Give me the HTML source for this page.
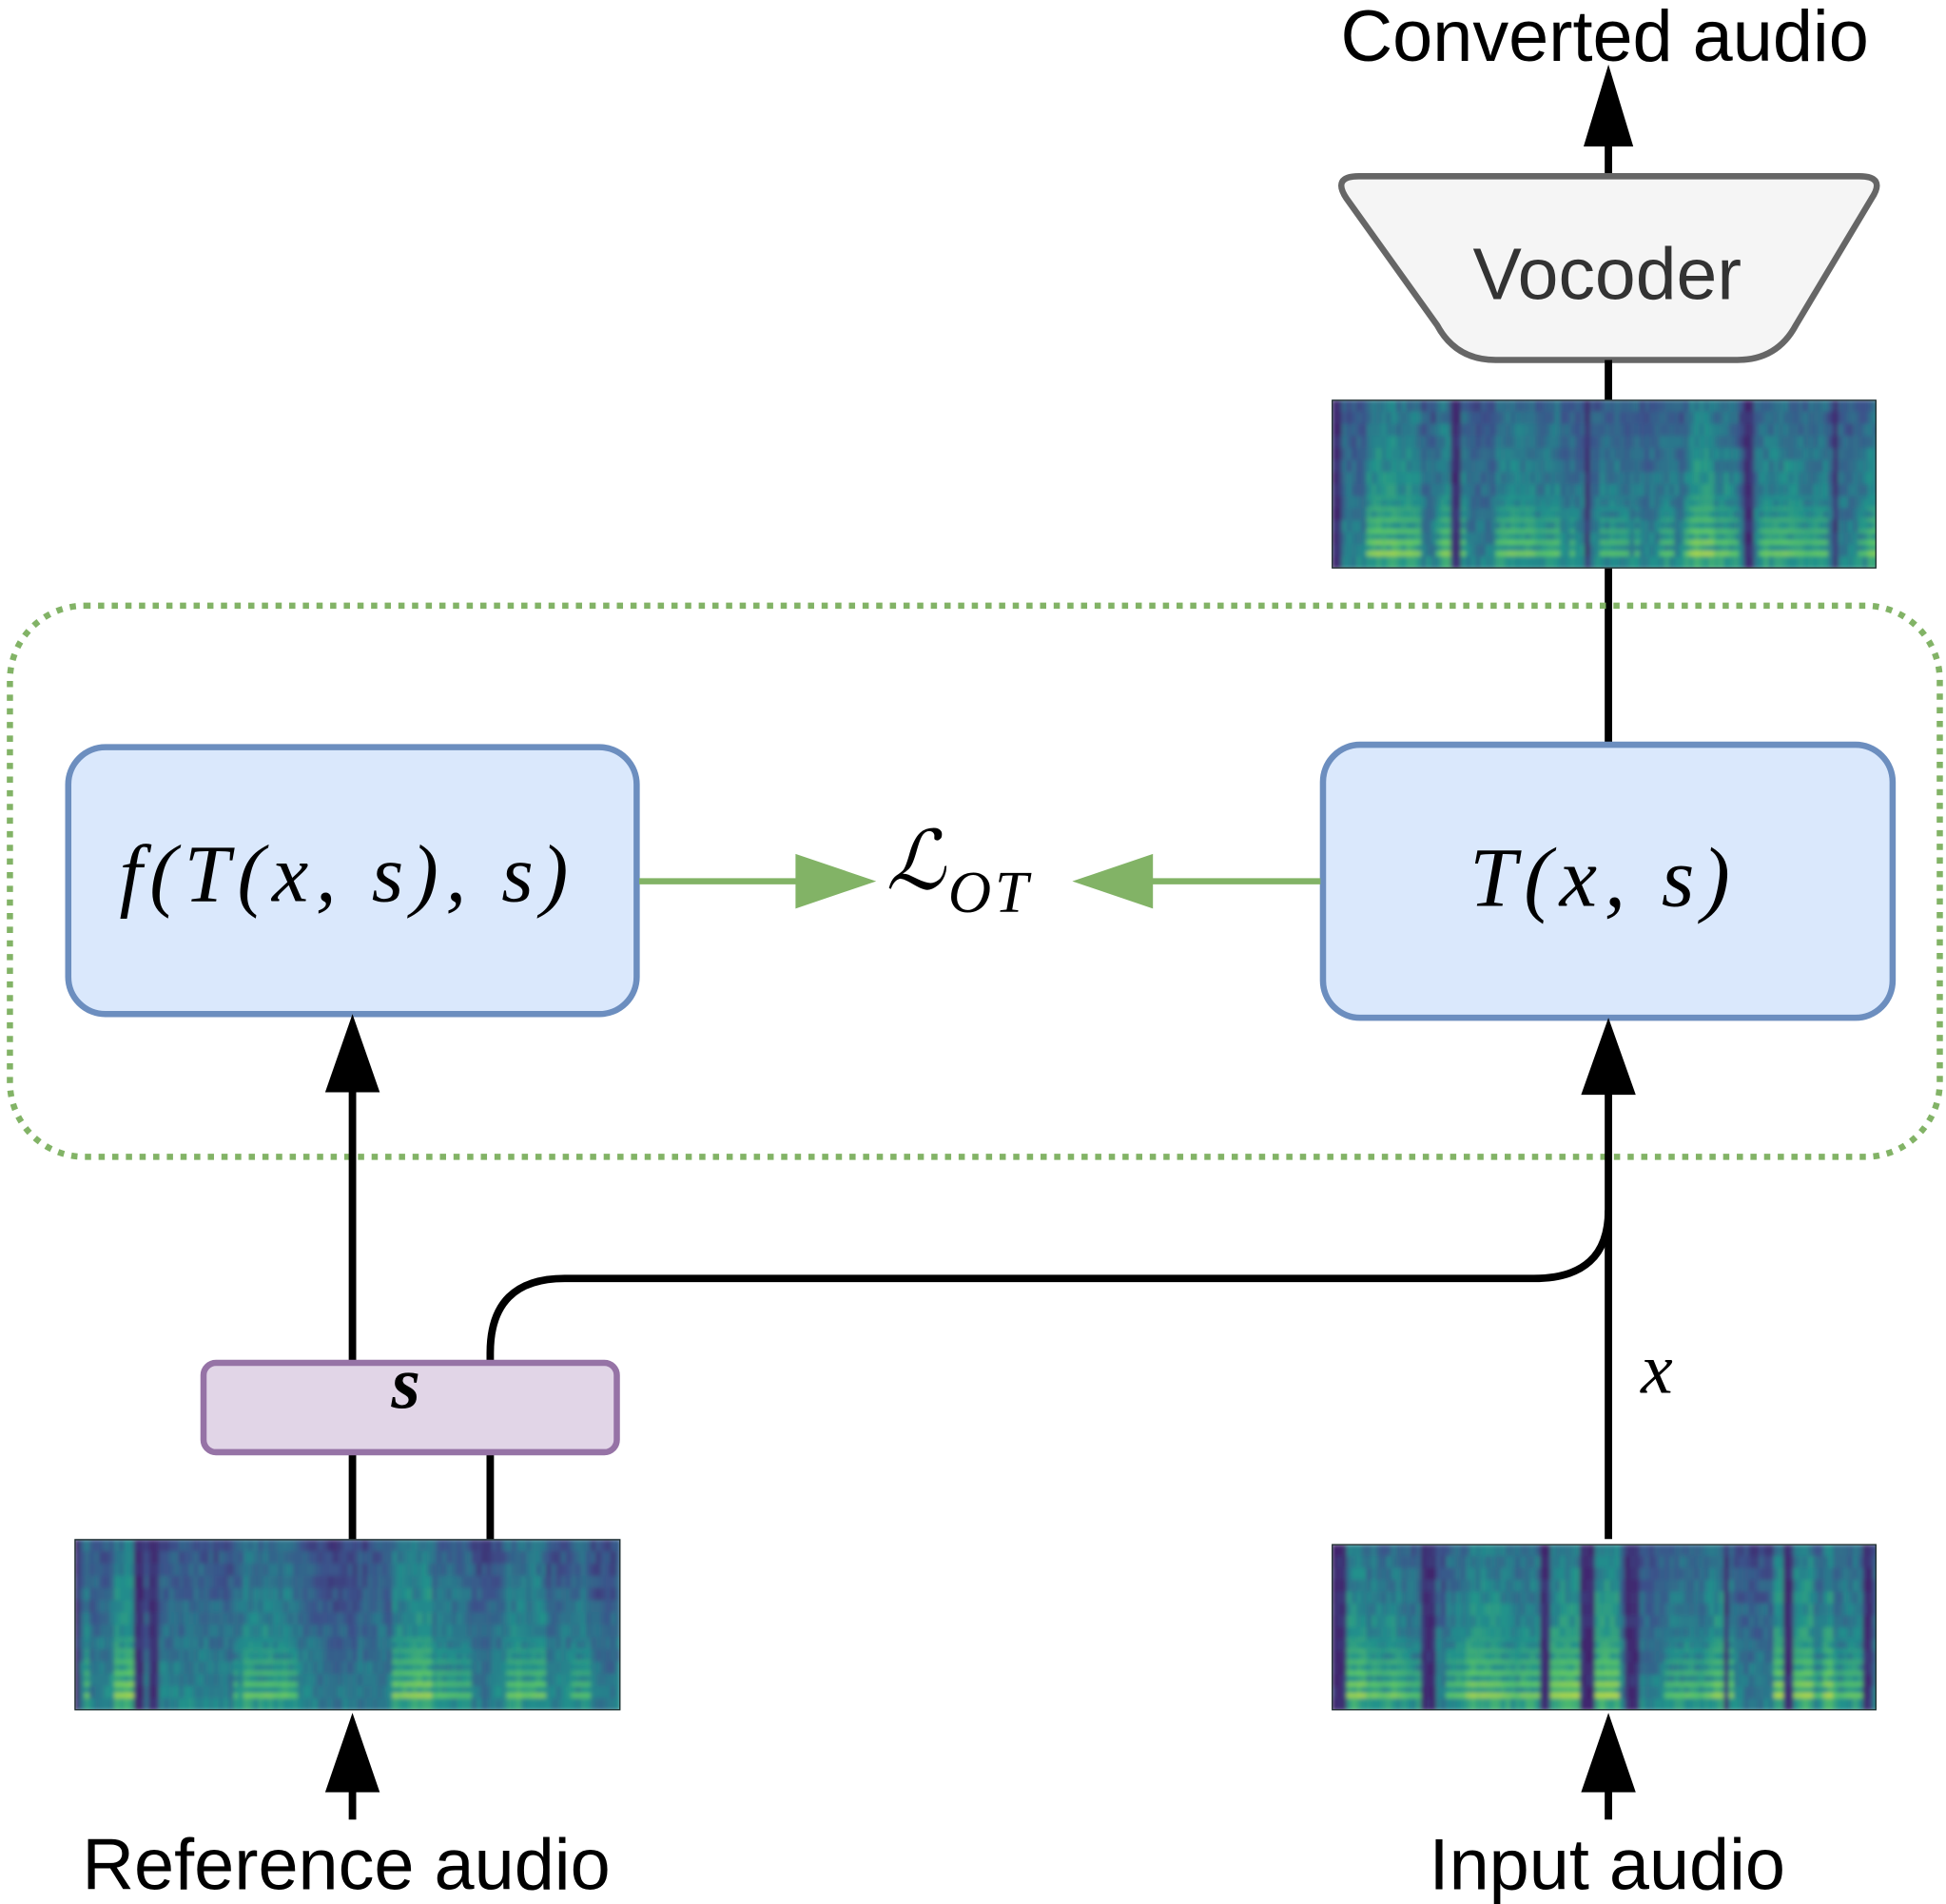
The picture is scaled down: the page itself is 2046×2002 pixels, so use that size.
<!DOCTYPE html>
<html><head><meta charset="utf-8"><style>
html,body{margin:0;padding:0;background:#fff}
svg{display:block}
.sans{font-family:"Liberation Sans",sans-serif}
.math{font-family:"Liberation Serif",serif;font-style:italic}
</style></head><body>
<svg id="s" width="2046" height="2002" viewBox="0 0 1568 1534" preserveAspectRatio="none" xmlns="http://www.w3.org/2000/svg">
<defs>
<filter id="bl" x="0" y="0" width="1" height="1"><feGaussianBlur stdDeviation="1.8"/></filter>
<clipPath id="c1"><rect x="1073" y="322" width="439" height="136"/></clipPath>
<clipPath id="c2"><rect x="60" y="1240" width="440" height="138"/></clipPath>
<clipPath id="c3"><rect x="1073" y="1244" width="439" height="134"/></clipPath>
</defs>

<text x="1293" y="49" class="sans" font-size="58" text-anchor="middle">Converted audio</text>
<line x1="1296" y1="142" x2="1296" y2="110" stroke="#000" stroke-width="6"/>
<polygon points="1296,52 1276,118 1316,118" fill="#000"/>

<path d="M1095,142 L1498,142 Q1520,142 1508,160 L1447,262 Q1432,290 1400,290 L1205,290 Q1173,290 1158,262 L1085,160 Q1073,142 1095,142 Z" fill="#f5f5f5" stroke="#666" stroke-width="5"/>
<text x="1295" y="241" class="sans" font-size="59" fill="#333" text-anchor="middle">Vocoder</text>
<line x1="1296" y1="290" x2="1296" y2="322" stroke="#000" stroke-width="6"/>

<g id="sp1" clip-path="url(#c1)"></g>
<g id="sp2" clip-path="url(#c2)"></g>
<g id="sp3" clip-path="url(#c3)"></g>

<line x1="1296" y1="458" x2="1296" y2="600" stroke="#000" stroke-width="6"/>

<rect x="8" y="488" width="1555" height="444" rx="60" fill="none" stroke="#82b366" stroke-width="5" stroke-dasharray="5,6"/>

<rect x="55" y="602" width="458" height="215" rx="30" fill="#dae8fc" stroke="#6c8ebf" stroke-width="5"/>
<text x="280" y="726" class="math" font-size="66" letter-spacing="6" text-anchor="middle">f(T(x, s), s)</text>
<rect x="1066" y="600" width="459" height="220" rx="30" fill="#dae8fc" stroke="#6c8ebf" stroke-width="5"/>
<text x="1292" y="730" class="math" font-size="68" letter-spacing="6" text-anchor="middle">T(x, s)</text>

<line x1="515" y1="710" x2="645" y2="710" stroke="#82b366" stroke-width="5"/>
<polygon points="706,710 641,688 641,732" fill="#82b366"/>
<line x1="1064" y1="710" x2="925" y2="710" stroke="#82b366" stroke-width="5"/>
<polygon points="864,710 929,688 929,732" fill="#82b366"/>
<text x="714" y="716" class="math" font-size="66">ℒ</text>
<text x="764" y="735" class="math" font-size="48" letter-spacing="3">OT</text>

<line x1="284" y1="1240" x2="284" y2="870" stroke="#000" stroke-width="6"/>
<polygon points="284,817 262,880 306,880" fill="#000"/>
<line x1="1296" y1="1240" x2="1296" y2="872" stroke="#000" stroke-width="6"/>
<polygon points="1296,820 1274,882 1318,882" fill="#000"/>

<path d="M395,1240 L395,1090 Q395,1030 455,1030 L1236,1030 Q1296,1030 1296,975" fill="none" stroke="#000" stroke-width="6"/>
<rect x="164" y="1098" width="333" height="72" rx="10" fill="#e1d5e7" stroke="#9673a6" stroke-width="5"/>
<text x="327" y="1134" class="math" font-size="60" font-weight="bold" text-anchor="middle">s</text>
<text x="1335" y="1122" class="math" font-size="58" text-anchor="middle">x</text>

<line x1="284" y1="1466" x2="284" y2="1430" stroke="#000" stroke-width="6"/>
<polygon points="284,1380 262,1444 306,1444" fill="#000"/>
<line x1="1296" y1="1466" x2="1296" y2="1430" stroke="#000" stroke-width="6"/>
<polygon points="1296,1380 1274,1444 1318,1444" fill="#000"/>

<text x="279" y="1522" class="sans" font-size="58" text-anchor="middle">Reference audio</text>
<text x="1295" y="1522" class="sans" font-size="58" text-anchor="middle">Input audio</text>
</svg>
<script>
(function(){
var NS="http://www.w3.org/2000/svg";
var seed=7;function r(){seed=(seed*16807)%2147483647;return seed/2147483647;}
function lerp(a,b,t){return a+(b-a)*t;}
var stops=[[68,1,84],[59,82,139],[33,145,140],[94,201,98],[253,231,37]];
function col(v){v=Math.max(0,Math.min(0.999,v));var p=v*4,i=Math.floor(p),t=p-i;var a=stops[i],b=stops[i+1];
return "rgb("+Math.round(lerp(a[0],b[0],t))+","+Math.round(lerp(a[1],b[1],t))+","+Math.round(lerp(a[2],b[2],t))+")";}
function spec(id,x,y,w,h,s){
 seed=s;var g=document.getElementById(id);var inner=document.createElementNS(NS,"g");inner.setAttribute("filter","url(#bl)");
 var bg=document.createElementNS(NS,"rect");bg.setAttribute("x",x);bg.setAttribute("y",y);bg.setAttribute("width",w);bg.setAttribute("height",h);bg.setAttribute("fill",col(0.3));inner.appendChild(bg);
 var cw=4,loud=0.5,dark=0;
 for(var cx=0;cx<w;cx+=cw){
  if(dark>0){dark--;}
  else if(r()<0.06){dark=1+Math.floor(r()*3);}
  if(r()<0.25)loud=0.25+r()*0.7;else loud=Math.max(0.2,Math.min(1,loud+(r()-0.5)*0.15));
  var rows=14;
  for(var j=0;j<rows;j++){
   var fy=j/rows;
   var v=0.14+loud*0.3+(fy*0.2)+(r()-0.5)*0.16;
   if(dark>0)v=0.1+r()*0.08;
   var rc=document.createElementNS(NS,"rect");
   rc.setAttribute("x",x+cx);rc.setAttribute("y",y+fy*h);rc.setAttribute("width",cw+0.5);rc.setAttribute("height",h/rows+0.5);
   rc.setAttribute("fill",col(v));inner.appendChild(rc);
  }
  if(dark==0&&loud>0.5){
   for(var k=0;k<6;k++){
    var hy=y+h-14-k*9;
    var vv=0.5+loud*0.4-k*0.06;
    var l=document.createElementNS(NS,"rect");
    l.setAttribute("x",x+cx);l.setAttribute("y",hy);l.setAttribute("width",cw+0.5);l.setAttribute("height",4);
    l.setAttribute("fill",col(vv));inner.appendChild(l);
   }
  }
 }
 g.appendChild(inner);
 var br=document.createElementNS(NS,"rect");br.setAttribute("x",x);br.setAttribute("y",y);br.setAttribute("width",w);br.setAttribute("height",h);
 br.setAttribute("fill","none");br.setAttribute("stroke","#1a2a2a");br.setAttribute("stroke-width","2");g.appendChild(br);
}
spec("sp1",1073,322,439,136,11);
spec("sp2",60,1240,440,138,23);
spec("sp3",1073,1244,439,134,37);
})();
</script>
</body></html>
